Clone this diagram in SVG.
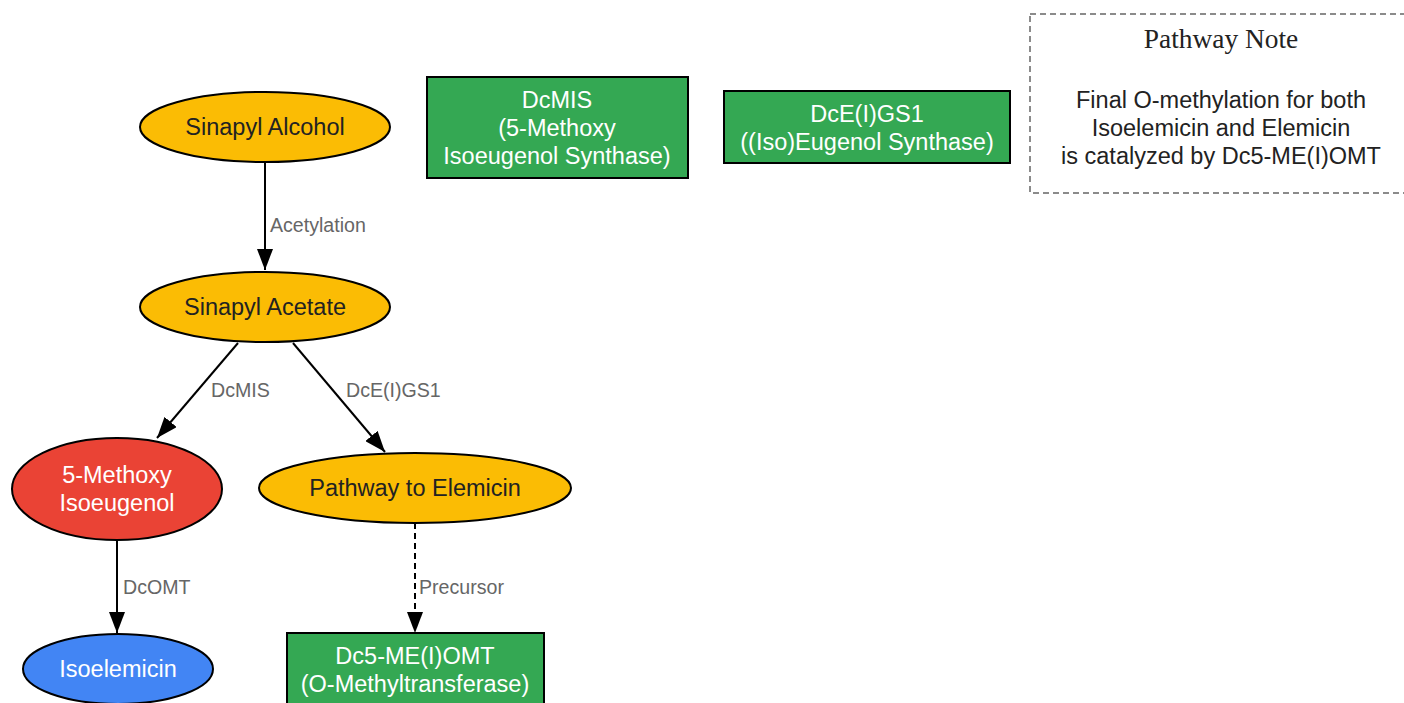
<svg xmlns="http://www.w3.org/2000/svg" width="1404" height="703" viewBox="0 0 1404 703">
<style>
.n{stroke:#000;stroke-width:2}
.t{font-family:"Liberation Sans",Arial,sans-serif;font-size:23.5px;text-anchor:middle}
.dk{fill:#222}
.wh{fill:#fff}
.el{font-family:"Liberation Sans",Arial,sans-serif;font-size:19.6px;fill:#666}
.e{stroke:#000;stroke-width:2;fill:none}
</style>
<defs>
<marker id="a" viewBox="0 0 21 16" refX="21" refY="8" markerWidth="21" markerHeight="16" markerUnits="userSpaceOnUse" orient="auto">
<path d="M0,0 L21,8 L0,16 z" fill="#000"/>
</marker>
</defs>
<rect width="1404" height="703" fill="#fff"/>
<g id="connectors">
<line class="e" x1="265" y1="162" x2="265" y2="270" marker-end="url(#a)"/>
<text class="el" x="270" y="232">Acetylation</text>
<line class="e" x1="238" y1="343" x2="157" y2="438" marker-end="url(#a)"/>
<text class="el" x="211" y="397">DcMIS</text>
<line class="e" x1="293" y1="343" x2="385" y2="452" marker-end="url(#a)"/>
<text class="el" x="346" y="397">DcE(I)GS1</text>
<line class="e" x1="117" y1="540" x2="117" y2="633" marker-end="url(#a)"/>
<text class="el" x="123" y="594">DcOMT</text>
<line class="e" x1="415" y1="523" x2="415" y2="633" stroke-dasharray="6,4" marker-end="url(#a)"/>
<text class="el" x="419" y="594">Precursor</text>
</g>
<g id="sinapyl_alcohol">
<ellipse class="n" cx="265" cy="127" rx="125" ry="35" fill="#FBBC04"/>
<text class="t dk" x="265" y="135">Sinapyl Alcohol</text>
</g>
<g id="sinapyl_acetate">
<ellipse class="n" cx="265" cy="307" rx="125" ry="35" fill="#FBBC04"/>
<text class="t dk" x="265" y="315">Sinapyl Acetate</text>
</g>
<g id="methoxy_isoeugenol">
<ellipse class="n" cx="117" cy="489" rx="105" ry="51" fill="#EA4335"/>
<text class="t wh" x="117" y="483">5-Methoxy</text>
<text class="t wh" x="117" y="511">Isoeugenol</text>
</g>
<g id="pathway_elemicin">
<ellipse class="n" cx="415" cy="488" rx="156" ry="35" fill="#FBBC04"/>
<text class="t dk" x="415" y="496">Pathway to Elemicin</text>
</g>
<g id="isoelemicin">
<ellipse class="n" cx="118" cy="669" rx="95" ry="35" fill="#4285F4"/>
<text class="t wh" x="118" y="677">Isoelemicin</text>
</g>
<g id="dc5meiomt">
<rect class="n" x="287" y="633" width="257" height="80" fill="#34A853"/>
<text class="t wh" x="415" y="664">Dc5-ME(I)OMT</text>
<text class="t wh" x="415" y="692">(O-Methyltransferase)</text>
</g>
<g id="dcmis">
<rect class="n" x="427" y="77" width="261" height="101" fill="#34A853"/>
<text class="t wh" x="557" y="108">DcMIS</text>
<text class="t wh" x="557" y="136">(5-Methoxy</text>
<text class="t wh" x="557" y="164">Isoeugenol Synthase)</text>
</g>
<g id="dceigs1">
<rect class="n" x="724" y="91" width="286" height="72" fill="#34A853"/>
<text class="t wh" x="867" y="122">DcE(I)GS1</text>
<text class="t wh" x="867" y="150">((Iso)Eugenol Synthase)</text>
</g>
<g id="pathway_note">
<rect x="1030" y="14" width="390" height="179" fill="#fff" stroke="#666" stroke-width="1.5" stroke-dasharray="6,4"/>
<text x="1221" y="48" style="font-family:'Liberation Serif','Times New Roman',serif;font-size:27.4px;text-anchor:middle;fill:#222">Pathway Note</text>
<text class="t dk" x="1221" y="108">Final O-methylation for both</text>
<text class="t dk" x="1221" y="136">Isoelemicin and Elemicin</text>
<text class="t dk" x="1221" y="164">is catalyzed by Dc5-ME(I)OMT</text>
</g>
</svg>
